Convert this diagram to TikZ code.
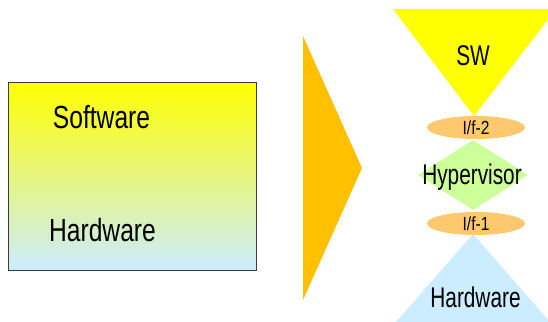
\documentclass[tikz,border=0pt]{standalone}
\usepackage{fontspec}
\setmainfont{Liberation Sans}
\newfontfamily\boxfont[FakeStretch=0.77]{Liberation Sans}
\newfontfamily\hvfont[FakeStretch=0.73]{Liberation Sans}
\newfontfamily\iffont[FakeStretch=0.82]{Liberation Sans}
\usetikzlibrary{shapes.geometric}
\definecolor{hvYellow}{RGB}{255,255,0}
\definecolor{hvBlue}{RGB}{204,236,255}
\definecolor{hvOrange}{RGB}{255,192,0}
\definecolor{hvPeach}{RGB}{255,200,110}
\definecolor{hvGreen}{RGB}{204,255,153}
\definecolor{hvLine}{RGB}{60,60,60}

\begin{document}
\begin{tikzpicture}[x=1pt, y=-1pt,
  stack/.style={draw=hvLine, line width=0.8pt, top color=hvYellow, bottom color=hvBlue,
    minimum width=248pt, minimum height=188pt, inner sep=0pt},
  big/.style={font=\boxfont\fontsize{32}{32}\selectfont, inner sep=0pt, anchor=base},
  small/.style={font=\hvfont\fontsize{28.5}{28.5}\selectfont, inner sep=0pt, anchor=base},
  iface/.style={ellipse, fill=hvPeach, minimum width=98pt, minimum height=23pt, inner sep=0pt,
    font=\iffont\fontsize{19}{19}\selectfont},
  hyp/.style={diamond, fill=hvGreen, minimum width=110pt, minimum height=70pt, inner sep=0pt}
]
\useasboundingbox (0,0) rectangle (548,321);
\clip (0,0) rectangle (548,321);

% left: plain stack
\node[stack] (plain) at (132,176) {};
\node[big] (sw) at (101.5,128) {Software};
\node[big] (hw) at (102.5,241) {Hardware};

% arrow between the two
\fill[hvOrange] (303,36) -- (362,168) -- (303,300) -- cycle;

% right: hourglass with hypervisor
\fill[hvYellow] (393,9) -- (556,9) -- (474,116) -- cycle;
\fill[hvBlue] (473,234) -- (550,322) -- (396,322) -- cycle;
\node[hyp] (hv) at (473,175) {};
\node[iface] (if2) at (476,127.5) {I/f-2};
\node[iface] (if1) at (476,223.5) {I/f-1};
\node[small] (swtop) at (473,65) {SW};
\node[small] at (472,184) {Hypervisor};
\node[small] (hwbot) at (475.5,307) {Hardware};
\end{tikzpicture}
\end{document}
